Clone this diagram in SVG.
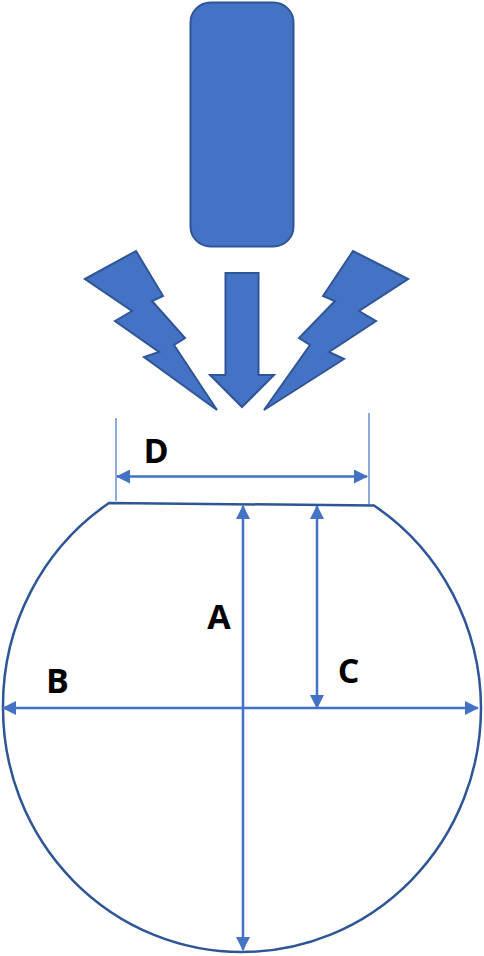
<svg xmlns="http://www.w3.org/2000/svg" width="484" height="956" viewBox="0 0 484 956">
<style>
.s{fill:#4472c4;stroke:#2f5597;stroke-width:2;stroke-linejoin:miter}
.l{fill:none;stroke:#4472c4;stroke-width:2.500}
.t{fill:none;stroke:#4472c4;stroke-width:1.200}
.o{fill:none;stroke:#2f5597;stroke-width:2.500}
text{font-family:"Open Sans","Liberation Sans",sans-serif;font-weight:700;font-size:34px;fill:#000;text-anchor:middle}
</style>
<defs>
<marker id="a" viewBox="0 0 14 14" refX="13" refY="7" markerUnits="userSpaceOnUse" markerWidth="14" markerHeight="14" orient="auto-start-reverse"><path d="M0 0L14 7L0 14Z" fill="#4472c4"/></marker>
</defs>
<g id="source"><rect class="s" x="190.500" y="2.500" width="103" height="244" rx="20"/></g>
<g id="bolt-left"><polygon class="s" points="85,279 136,251 163,296 152,301 185,338 174,345 217,410 144,357 159,352 115,321 132,311"/></g>
<g id="bolt-right"><polygon class="s" points="408,279 353,251 323,296 335,301 299,338 310,345 264,410 344,359 329,352 376,321 359,311"/></g>
<g id="arrow-down"><polygon class="s" points="225.500,273 258.500,273 258.500,375 274,375 242,407 210,375 225.500,375"/></g>
<g id="sphere"><path class="o" d="M109 503L374 505.500A239 244 0 0 1 481 708A239 244 0 0 1 242 952A239 244 0 0 1 3 708A239 244 0 0 1 109 503Z"/></g>
<g id="connectors">
<line class="t" x1="116" y1="418" x2="116" y2="501"/>
<line class="t" x1="369" y1="413" x2="369" y2="505"/>
<line class="l" x1="117" y1="476.500" x2="367" y2="476.500" marker-start="url(#a)" marker-end="url(#a)"/>
<line class="l" x1="243" y1="506" x2="243" y2="950" marker-start="url(#a)" marker-end="url(#a)"/>
<line class="l" x1="317" y1="506" x2="317" y2="708" marker-start="url(#a)" marker-end="url(#a)"/>
<line class="l" x1="3" y1="708" x2="478" y2="708" marker-start="url(#a)" marker-end="url(#a)"/>
</g>
<g id="labels">
<text x="156" y="463">D</text>
<text x="219" y="629">A</text>
<text x="57.500" y="693">B</text>
<text x="348.500" y="683">C</text>
</g>
</svg>
